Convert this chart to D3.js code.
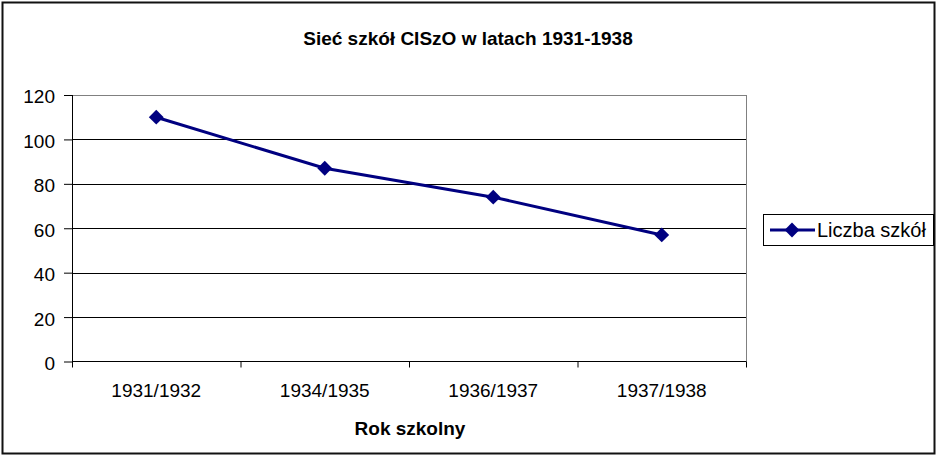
<!DOCTYPE html>
<meta charset="utf-8">
<html>
<head>
<script src="https://cdn.jsdelivr.net/npm/d3@7"></script>
<style>
body { margin:0; background:white; }
svg text { font-family:"Liberation Sans", Arial, sans-serif; fill:black; }
.title, .x-title { font-weight:bold; font-size:19px; }
.y-axis text, .x-axis text { font-size:19px; }
.y-axis path, .x-axis path, .x-ticks path, .grid path { display:none; }
.y-axis line, .x-ticks line { stroke:black; }
.grid line { stroke:black; shape-rendering:crispEdges; }
.legend text { font-size:20px; }
</style>
</head>
<body>
<script>

// chart values
var years = ["1931/1932", "1934/1935", "1936/1937", "1937/1938"];
var schools = [110, 87, 74, 57];
var yTicks = [0, 20, 40, 60, 80, 100, 120];
var seriesName = "Liczba szkół";
var titleText = "Sieć szkół CISzO w latach 1931-1938";
var xTitle = "Rok szkolny";

var W = 937, H = 456;
var m = {top:95, left:72, right:W - 746, bottom:H - 361.5},
    w = W - m.left - m.right,
    h = H - m.top - m.bottom;

var svg = d3.select("body").append("svg")
    .attr("width", W)
    .attr("height", H);

// outer frame
svg.append("rect")
    .attr("x", 2.5).attr("y", 2.5)
    .attr("width", W - 5).attr("height", H - 5)
    .attr("fill", "white")
    .attr("stroke", "#111")
    .attr("stroke-width", 2);

svg.append("text")
    .attr("class", "title")
    .attr("x", 468)
    .attr("y", 45)
    .attr("text-anchor", "middle")
    .text(titleText);

var g = svg.append("g")
    .attr("transform", `translate(${m.left}, ${m.top})`);

//scales
var x = d3.scaleBand().domain(years).range([0, w]);
var xEdge = d3.scaleLinear().domain([0, years.length]).range([0, w]);
var y = d3.scaleLinear().domain([0, 120]).range([h, 0]);

//gridlines
g.append("g")
    .attr("class", "grid")
    .call(d3.axisLeft(y).tickValues(yTicks.slice(1, -1)).tickSize(-w).tickFormat(""));

//plot border (gray)
g.append("rect")
    .attr("x", 0).attr("y", 0)
    .attr("width", w).attr("height", h)
    .attr("fill", "none")
    .attr("stroke", "#808080")
    .attr("shape-rendering", "crispEdges");

//y axis
var ya = g.append("g")
    .attr("class", "y-axis")
    .call(d3.axisLeft(y).tickValues(yTicks).tickSize(8).tickPadding(9));
ya.append("line").attr("x1", 0).attr("x2", 0).attr("y1", 0).attr("y2", h)
    .attr("stroke", "black").attr("shape-rendering", "crispEdges");
ya.selectAll(".tick text").attr("dy", "0.42em");

//x axis: boundary ticks
var xt = g.append("g")
    .attr("class", "x-ticks")
    .attr("transform", `translate(0, ${h})`)
    .call(d3.axisBottom(xEdge).ticks(years.length).tickSize(6).tickFormat(""));
xt.append("line").attr("x1", 0).attr("x2", w).attr("y1", 0).attr("y2", 0)
    .attr("stroke", "black").attr("shape-rendering", "crispEdges");

//x axis labels
g.append("g")
    .attr("class", "x-axis")
    .attr("transform", `translate(0, ${h})`)
    .call(d3.axisBottom(x).tickSize(0).tickPadding(22));

g.append("text")
    .attr("class", "x-title")
    .attr("x", w / 2 + 1)
    .attr("y", 435 - m.top)
    .attr("text-anchor", "middle")
    .text(xTitle);

//line
var line = d3.line()
    .x((d, i) => x(years[i]) + x.bandwidth() / 2)
    .y(d => y(d));

g.append("path")
    .datum(schools)
    .attr("d", line)
    .attr("fill", "none")
    .attr("stroke", "#000080")
    .attr("stroke-width", 3);

var diamond = d3.symbol().type(d3.symbolSquare).size(110);

g.selectAll(".pt")
    .data(schools)
    .enter()
    .append("path")
    .attr("class", "pt")
    .attr("d", diamond)
    .attr("transform", (d, i) => `translate(${x(years[i]) + x.bandwidth() / 2}, ${y(d)}) rotate(45)`)
    .attr("fill", "#000080");

//legend
var lg = svg.append("g").attr("class", "legend");
lg.append("rect")
    .attr("x", 763.5).attr("y", 214.5)
    .attr("width", 170).attr("height", 31)
    .attr("fill", "white")
    .attr("stroke", "black");
lg.append("line")
    .attr("x1", 770).attr("x2", 815)
    .attr("y1", 230).attr("y2", 230)
    .attr("stroke", "#000080").attr("stroke-width", 3);
lg.append("path")
    .attr("d", diamond)
    .attr("transform", "translate(792, 230) rotate(45)")
    .attr("fill", "#000080");
lg.append("text")
    .attr("x", 817)
    .attr("y", 237)
    .text(seriesName);

</script>
</body>
</html>
